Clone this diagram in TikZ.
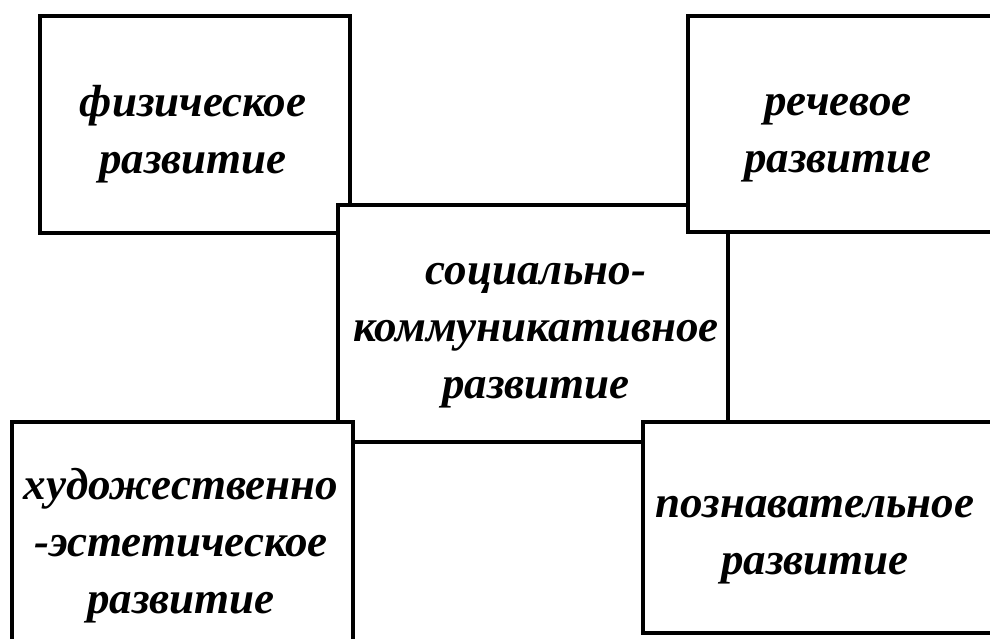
\documentclass[tikz,border=0pt]{standalone}
\usepackage{fontspec}
\setmainfont{Liberation Serif}
\begin{document}
\begin{tikzpicture}[x=1pt,y=-1pt,
  box/.style={draw=black,fill=white,line width=4.5pt,inner sep=0pt,outer sep=0pt,anchor=north west},
  lbl/.style={align=center,inner sep=0pt,font=\fontsize{45}{57}\selectfont\bfseries\itshape}]
\useasboundingbox (0,0) rectangle (990,638);
\fill[white] (0,0) rectangle (990,638);
\node[box,minimum width=310pt,minimum height=217pt] (tl) at (40,16) {};
\node[box,minimum width=390pt,minimum height=237pt] (c) at (338,205) {};
\node[box,minimum width=320pt,minimum height=216pt] (tr) at (688,16) {};
\node[box,minimum width=341pt,minimum height=240pt] (bl) at (12,422) {};
\node[box,minimum width=360pt,minimum height=211pt] (br) at (643,422) {};
\node[lbl] (tltext) at (193,134) {физическое\\развитие};
\node[lbl] (trtext) at (838,138) {речевое\\развитие};
\node[lbl] (ctext) at (536,336) {социально-\\коммуникативное\\развитие};
\node[lbl] (bltext) at (181,546) {художественно\\-эстетическое\\развитие};
\node[lbl] (brtext) at (815,540) {познавательное\\развитие};
\end{tikzpicture}
\end{document}
